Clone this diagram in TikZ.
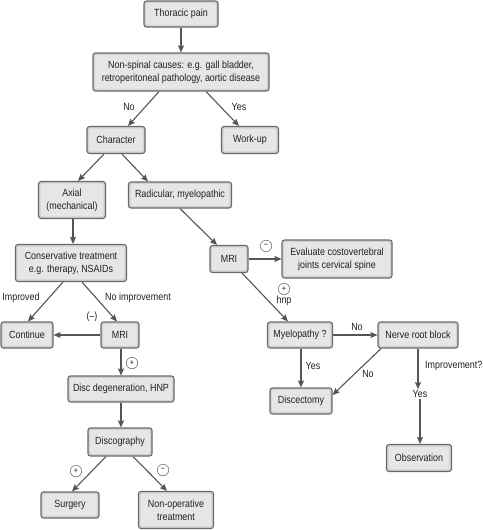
\documentclass[tikz,border=0pt]{standalone}
\usepackage{fontspec}
\setmainfont{Liberation Sans}[FakeStretch=0.86]
\usetikzlibrary{arrows.meta,calc}
\definecolor{boxfill}{HTML}{D2D2D2}
\definecolor{boxinner}{HTML}{E6E6E6}
\definecolor{boxline}{HTML}{6A6A6A}
\definecolor{arr}{HTML}{555555}
\definecolor{txt}{HTML}{222222}
\begin{document}
\begin{tikzpicture}[x=1pt,y=-1pt,font=\fontsize{10.4}{12.8}\selectfont,
  box/.style={draw=boxline, fill=boxfill, line width=1.1pt, rounded corners=2.5pt, align=center, inner sep=0pt, text=txt,
    path picture={\fill[boxinner, rounded corners=2pt]
      ([shift={(2.2pt,2.2pt)}]path picture bounding box.south west) rectangle
      ([shift={(-2.2pt,-2.2pt)}]path picture bounding box.north east);}},
  conn/.style={draw=arr, line width=1.1pt, -{Stealth[length=7pt,width=6pt,inset=1pt]}},
  lbl/.style={inner sep=1pt, text=txt},
  sign/.style={circle, draw=black!60, line width=0.5pt, minimum size=11.5pt, inner sep=0pt, text=txt, font=\fontsize{8.5}{8.5}\selectfont}]
\useasboundingbox (0,0) rectangle (482,530);
\fill[white] (0,0) rectangle (482,530);

% nodes
\node[box, minimum width=74pt, minimum height=26pt] (tp) at (181,14) {Thoracic pain};
\node[box, minimum width=176pt, minimum height=38pt] (ns) at (181,72) {Non-spinal causes: e.g. gall bladder,\\retroperitoneal pathology, aortic disease};
\node[box, minimum width=58pt, minimum height=27pt] (ch) at (116,140) {Character};
\node[box, minimum width=57pt, minimum height=27pt] (wu) at (250,140) {Work-up};
\node[box, minimum width=67pt, minimum height=37pt] (ax) at (72,200) {Axial\\(mechanical)};
\node[box, minimum width=103pt, minimum height=26pt] (rad) at (180,195) {Radicular, myelopathic};
\node[box, minimum width=111pt, minimum height=37pt] (cons) at (71,263) {Conservative treatment\\e.g. therapy, NSAIDs};
\node[box, minimum width=38pt, minimum height=27pt] (mri2) at (229,259) {MRI};
\node[box, minimum width=110pt, minimum height=38pt] (ev) at (337,259) {Evaluate costovertebral\\joints cervical spine};
\node[box, minimum width=52pt, minimum height=26pt] (cont) at (27,335) {Continue};
\node[box, minimum width=38pt, minimum height=26pt] (mri1) at (120,335) {MRI};
\node[box, minimum width=65pt, minimum height=26pt] (my) at (300,335) {Myelopathy ?};
\node[box, minimum width=80pt, minimum height=26pt] (nrb) at (418,335) {Nerve root block};
\node[box, minimum width=106pt, minimum height=26pt] (disc) at (121,389) {Disc degeneration, HNP};
\node[box, minimum width=64pt, minimum height=28pt] (dg) at (120,442) {Discography};
\node[box, minimum width=62pt, minimum height=26pt] (dect) at (301,401) {Discectomy};
\node[box, minimum width=65pt, minimum height=27pt] (obs) at (419,458) {Observation};
\node[box, minimum width=58pt, minimum height=26pt] (surg) at (70,505) {Surgery};
\node[box, minimum width=75pt, minimum height=37pt] (nonop) at (176,510) {Non-operative\\treatment};

% labels
\node[lbl] (lno1) at (129,107) {No};
\node[lbl] (lyes1) at (239,107) {Yes};
\node[lbl] (limp) at (21,298) {Improved};
\node[lbl] (lnoimp) at (138,298) {No improvement};
\node[lbl] (lneg) at (92,317) {(–)};
\node[sign] (s1) at (266,246) {−};
\node[sign] (s2) at (284,289) {+};
\node[lbl] (lhnp) at (284,301) {hnp};
\node[lbl] (lno2) at (357,327) {No};
\node[sign] (s3) at (132,363) {+};
\node[lbl] (lyes2) at (313,366) {Yes};
\node[lbl] (lno3) at (368,374) {No};
\node[lbl, anchor=west] (limpq) at (424,366) {Improvement?};
\node[lbl] (lyes3) at (420,394) {Yes};
\node[sign] (s4) at (76,471) {+};
\node[sign] (s5) at (163,470) {−};

% connectors
\draw[conn] (tp.south) -- (ns.north);
\draw[conn] ([xshift=-22pt]ns.south) -- ([xshift=12pt]ch.north);
\draw[conn] ([xshift=25pt]ns.south) -- ([xshift=-11pt]wu.north);
\draw[conn] ([xshift=-12pt]ch.south) -- ([xshift=6pt]ax.north);
\draw[conn] ([xshift=6pt]ch.south) -- ([xshift=-32pt]rad.north);
\draw[conn] ([xshift=1pt]ax.south) -- ([xshift=2pt]cons.north);
\draw[conn] (rad.south) -- ([xshift=-12pt]mri2.north);
\draw[conn] (mri2.east) -- (ev.west);
\draw[conn] ([xshift=13pt]mri2.south) -- ([xshift=-12pt]my.north);
\draw[conn] ([xshift=-8pt]cons.south) -- ([xshift=1pt]cont.north);
\draw[conn] ([xshift=11pt]cons.south) -- ([xshift=-3pt]mri1.north);
\draw[conn] (mri1.west) -- (cont.east);
\draw[conn] ([xshift=1pt]mri1.south) -- (disc.north);
\draw[conn] (disc.south) -- ([xshift=1pt]dg.north);
\draw[conn] ([xshift=-14pt]dg.south) -- ([xshift=2pt]surg.north);
\draw[conn] ([xshift=13pt]dg.south) -- ([xshift=-9pt]nonop.north);
\draw[conn] (my.east) -- (nrb.west);
\draw[conn] ([xshift=1pt]my.south) -- (dect.north);
\draw[conn] ([xshift=-37pt]nrb.south) -- ([yshift=6pt]dect.east);
\draw[conn] (nrb.south) -- (nrb.south |- lyes3.north);
\draw[conn] (lyes3.south) -- (lyes3.south |- obs.north);
\end{tikzpicture}
\end{document}
